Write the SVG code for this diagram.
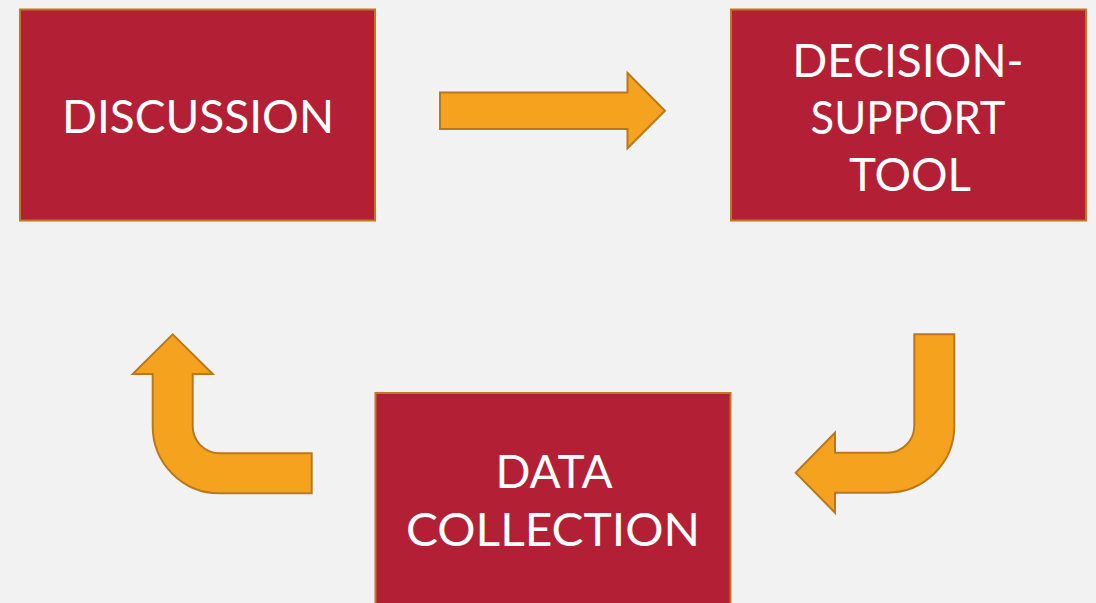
<svg xmlns="http://www.w3.org/2000/svg" width="1096" height="603" viewBox="0 0 1096 603">
  <style>
    .box { fill: #B32036; stroke: #C0771F; stroke-width: 2; }
    .label { fill: #FFFFFF; font-family: Lato, "Open Sans", sans-serif; font-size: 46px; text-anchor: middle; }
    .arrow { fill: #F5A31F; stroke: #B8791C; stroke-width: 2; stroke-linejoin: miter; }
  </style>
  <rect x="0" y="0" width="1096" height="603" fill="#F2F2F2"/>

  <g id="discussion">
    <rect class="box" x="20" y="9.5" width="355" height="211"/>
    <text class="label" x="198" y="133">DISCUSSION</text>
  </g>

  <g id="decision-support-tool">
    <rect class="box" x="731" y="9.5" width="355" height="211"/>
    <text class="label" x="908" y="77">DECISION-</text>
    <text class="label" x="908" y="134" textLength="195" lengthAdjust="spacingAndGlyphs">SUPPORT</text>
    <text class="label" x="910" y="191" textLength="122" lengthAdjust="spacingAndGlyphs">TOOL</text>
  </g>

  <g id="data-collection">
    <rect class="box" x="375.5" y="393" width="355" height="230"/>
    <text class="label" x="554" y="488">DATA</text>
    <text class="label" x="553" y="546" textLength="294" lengthAdjust="spacingAndGlyphs">COLLECTION</text>
  </g>

  <g id="connectors">
    <!-- straight arrow: discussion to decision-support tool -->
    <path class="arrow" d="M440,92.5 H627.5 V73 L665,110.7 L627.5,148.3 V129 H440 Z"/>
    <!-- bent arrow: decision-support tool down to data collection -->
    <path class="arrow" d="M914.3,334.3 H954.3 V425.7 A67,67 0 0 1 887.3,492.7 H835 V512.7 L795.7,472.7 L835,432.7 V452.7 H887.3 A27,27 0 0 0 914.3,425.7 Z"/>
    <!-- bent arrow: data collection back up to discussion -->
    <path class="arrow" d="M311.7,453.3 V493.3 H219.7 A67,67 0 0 1 152.7,426.3 V374 H132.7 L172.7,334.3 L212.7,374 H192.7 V426.3 A27,27 0 0 0 219.7,453.3 Z"/>
  </g>
</svg>
